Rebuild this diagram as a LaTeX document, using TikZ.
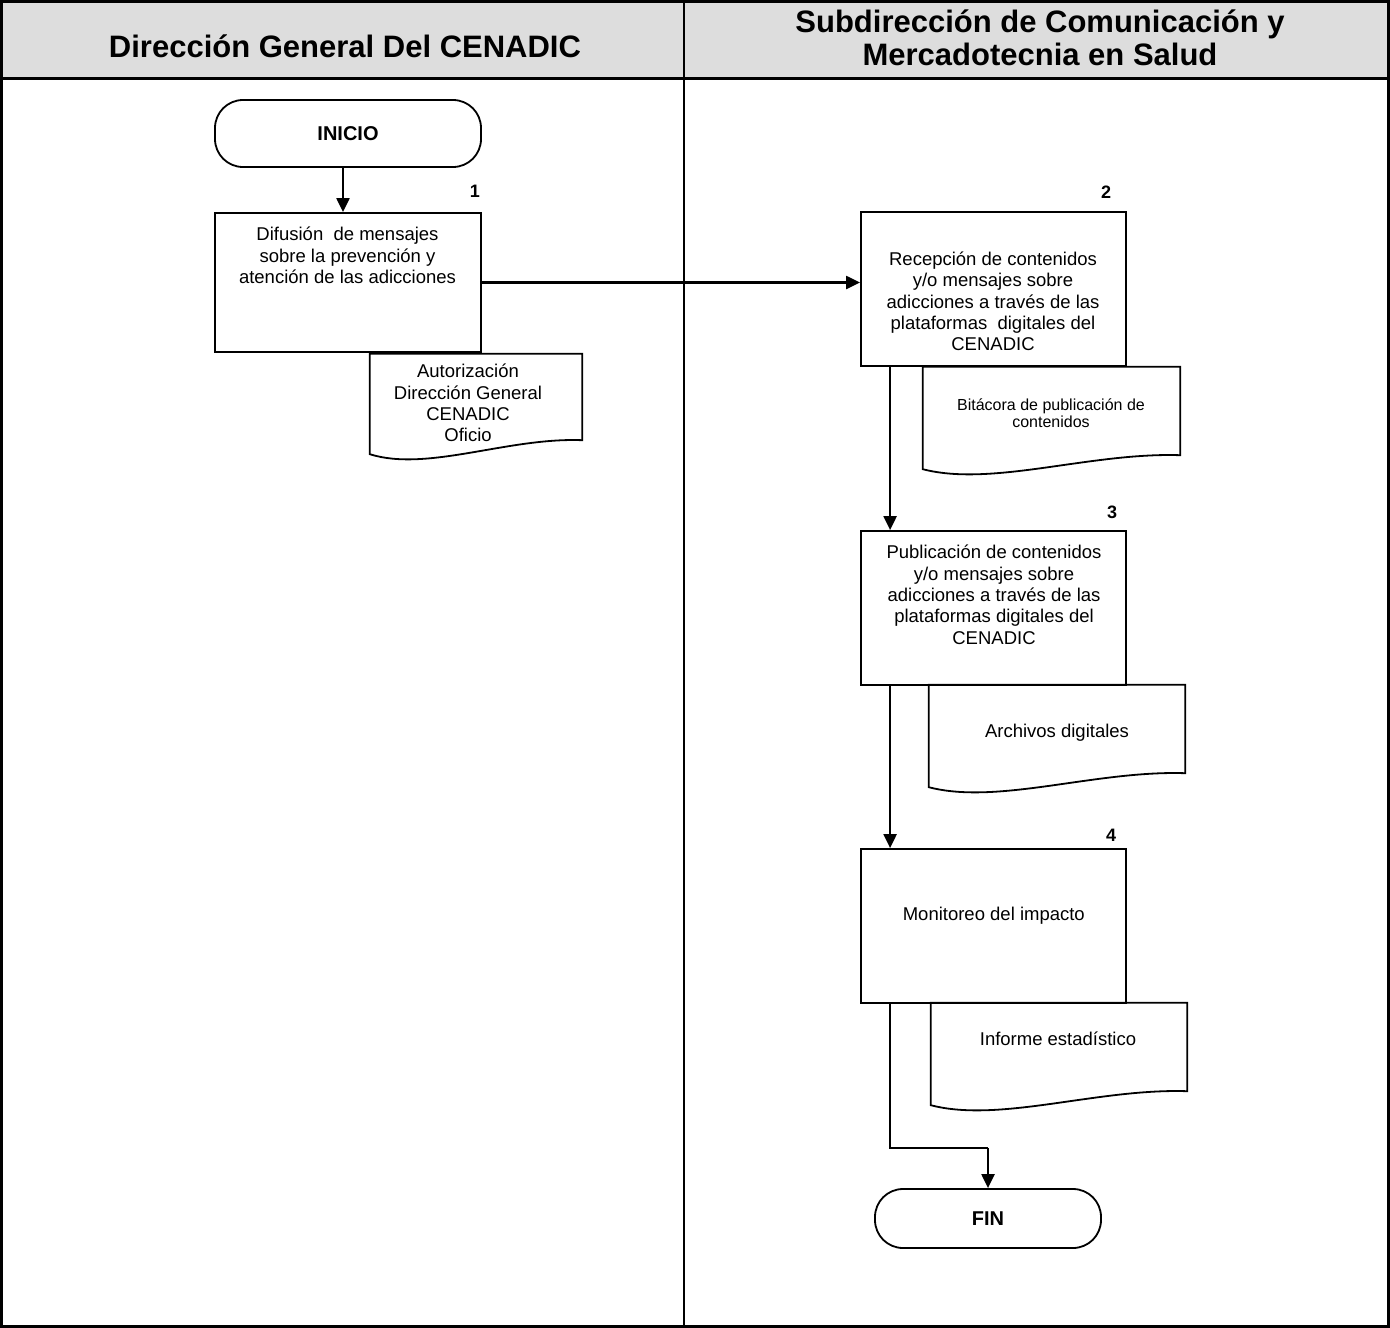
\documentclass[tikz,border=0pt]{standalone}
\usepackage{fontspec}
\setmainfont{Liberation Sans}
\usetikzlibrary{arrows.meta,calc}
\definecolor{headgray}{RGB}{221,221,221}

% document symbol: flat top, wavy bottom
\newcommand\docoutline[1]{%
  \draw[shapeline] ($(#1.south west)+(0,-6)$) -- (#1.north west) -- (#1.north east)
    -- ($(#1.south east)+(0,-20)$)
    .. controls ($(#1.south west)!0.65!(#1.south east)+(0,-23)$)
       and ($(#1.south west)!0.27!(#1.south east)+(0,12)$)
    .. ($(#1.south west)+(0,-6)$) -- cycle;}

\begin{document}
\begin{tikzpicture}[x=1pt,y=-1pt,
  shapeline/.style={line width=1.8pt},
  procbox/.style={draw, line width=1.8pt, rectangle, inner sep=0,
    minimum width=265pt, minimum height=154pt},
  term/.style={draw, line width=1.8pt, rectangle, rounded corners=28pt, inner sep=0,
    font=\bfseries\fontsize{20}{24}\selectfont},
  docbox/.style={rectangle, inner sep=0, minimum width=256pt, minimum height=108pt},
  % multi-line texts are placed by the baseline of their last line
  txt/.style={anchor=base, align=center, inner sep=0,
    font=\fontsize{18.5}{21.3}\selectfont},
  smalltxt/.style={anchor=base, align=center, inner sep=0,
    font=\fontsize{16}{17}\selectfont},
  stepno/.style={anchor=base, inner sep=0, font=\bfseries\fontsize{18}{20}\selectfont},
  headtxt/.style={anchor=base, align=center, inner sep=0,
    font=\bfseries\fontsize{31}{33}\selectfont},
  flow/.style={line width=2.2pt, -{Triangle[length=14pt,width=13pt]}},
  plain/.style={line width=2.2pt}
]
\useasboundingbox (0,0) rectangle (1390,1328);

% lanes and header
\fill[headgray] (1.5,1.5) rectangle (1388.5,78);
\draw[line width=3pt] (1.5,78) -- (1388.5,78);
\draw[line width=2.2pt] (684,1.5) -- (684,1326.5);
\draw[line width=3pt] (1.5,1.5) rectangle (1388.5,1326.5);
\node[headtxt] (h1) at (345,57) {Dirección General Del CENADIC};
\node[headtxt] (h2) at (1040,65) {Subdirección de Comunicación y\\Mercadotecnia en Salud};

% terminals
\node[term, minimum width=266pt, minimum height=67pt] (ini) at (348,133.5) {INICIO};
\node[term, minimum width=226pt, minimum height=59pt] (fin) at (988,1218.5) {FIN};

% process boxes
\node[procbox, minimum width=266pt, minimum height=139pt] (box1) at (348,282.5) {};
\node[procbox] (box2) at (993.5,289) {};
\node[procbox] (box3) at (993.5,608) {};
\node[procbox] (box4) at (993.5,926) {};

\node[txt] (t1) at (347.5,283.3) {Difusión\ \ de mensajes\\sobre la prevención y\\atención de las adicciones};
\node[txt] (t2) at (993,350.7) {Recepción de contenidos\\y/o mensajes sobre\\adicciones a través de las\\plataformas\ \ digitales del\\CENADIC};
\node[txt] (t3) at (994,644) {Publicación de contenidos\\y/o mensajes sobre\\adicciones a través de las\\plataformas digitales del\\CENADIC};
\node[txt] (t4) at (993.8,920.7) {Monitoreo del impacto};

% step numbers
\node[stepno] (n1) at (475,197.3) {1};
\node[stepno] (n2) at (1106,198.3) {2};
\node[stepno] (n3) at (1112,518) {3};
\node[stepno] (n4) at (1111,841.7) {4};

% documents
\node[docbox, minimum width=212pt, minimum height=106pt] (d1) at (476,407) {};
\node[docbox, minimum width=257pt] (d2) at (1051.5,421) {};
\node[docbox] (d3) at (1057,739) {};
\node[docbox] (d4) at (1059,1057) {};
\docoutline{d1}
\docoutline{d2}
\docoutline{d3}
\docoutline{d4}

\node[txt] (dt1) at (468,441.7) {Autorización\\Dirección General\\CENADIC\\Oficio};
\node[smalltxt] (dt2) at (1051,427) {Bitácora de publicación de\\contenidos};
\node[txt] (dt3) at (1057,737) {Archivos digitales};
\node[txt] (dt4) at (1058,1045) {Informe estadístico};

% connectors
\draw[flow] ([xshift=-5pt]ini.south) -- ([xshift=-5pt]box1.north);
\draw[flow] (box1.east) -- (box1.east -| box2.west);
\draw[flow] ($(box2.south west)+(30,0)$) -- ($(box3.north west)+(30,0)$);
\draw[flow] ($(box3.south west)+(30,0)$) -- ($(box4.north west)+(30,0)$);
\coordinate (bend) at ($(box4.south west)+(30,144)$);
\draw[plain] ($(box4.south west)+(30,0)$) -- (bend) -- (bend -| fin.north);
\draw[flow] (bend -| fin.north) -- (fin.north);
\end{tikzpicture}
\end{document}
